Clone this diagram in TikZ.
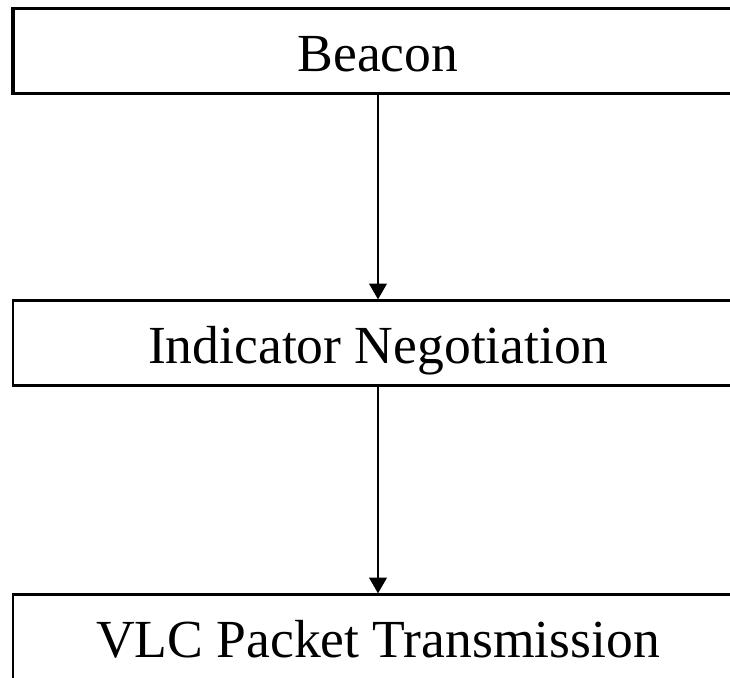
\documentclass[tikz,border=0pt]{standalone}
\usepackage{fontspec}
\setmainfont{Liberation Serif}
\usetikzlibrary{arrows.meta}
\tikzset{
    stage/.style={draw, line width=1.3pt, minimum width=14.6cm, minimum height=1.7cm,
        inner sep=0pt, text height=0.8cm, text depth=0pt,
        font=\fontsize{30.5}{36}\selectfont},
    flow/.style={line width=1.3pt, -{Triangle[width=10pt,length=9pt]}}
}
\begin{document}
\begin{tikzpicture}[x=0.02cm,y=-0.02cm]
        \useasboundingbox (0,0) rectangle (730,677);
        \clip (0,0) rectangle (730,677);
        %% Stages
        \node[stage, line width=1.8pt] (beacon) at (378,51) {Beacon};
        \node[stage] (nego) at (378,343) {Indicator Negotiation};
        \node[stage] (vlc) at (378,637) {VLC Packet Transmission};
        %% Arrows
        \draw[flow] (beacon) -- (nego);
        \draw[flow] (nego) -- (vlc);
\end{tikzpicture}
\end{document}
